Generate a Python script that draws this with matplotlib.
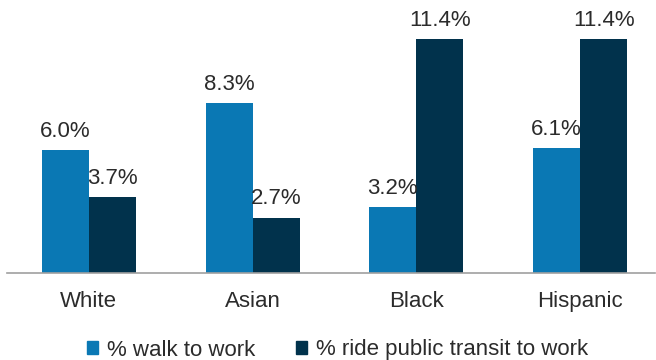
import matplotlib
matplotlib.use("Agg")
import matplotlib.pyplot as plt
import numpy as np
from matplotlib.patches import Patch

# data
categories = ["White", "Asian", "Black", "Hispanic"]
walk = [6.0, 8.3, 3.2, 6.1]
transit = [3.7, 2.7, 11.4, 11.4]
series_names = ["% walk to work", "% ride public transit to work"]

BLUE = "#0a78b4"
NAVY = "#01324c"
TEXT = "#2b2b2b"
FONTSIZE = 16

plt.rcParams["font.family"] = ["Liberation Sans", "DejaVu Sans"]

fig = plt.figure(figsize=(6.56, 3.60), dpi=100)
ax = fig.add_axes([7 / 656, 87 / 360, 648 / 656, 263 / 360])

x = np.arange(len(categories))
w = 0.287
b1 = ax.bar(x - w / 2, walk, w, color=BLUE)
b2 = ax.bar(x + w / 2, transit, w, color=NAVY)

for bars, vals in ((b1, walk), (b2, transit)):
    for r, v in zip(bars, vals):
        ax.annotate("%.1f%%" % v, (r.get_x() + r.get_width() / 2, v),
                    xytext=(0, 6), textcoords="offset points",
                    ha="center", va="bottom", fontsize=FONTSIZE, color=TEXT)

ax.set_xlim(-0.5, 3.457)
ax.set_ylim(0, 12.83)
ax.set_yticks([])
ax.set_xticks(x)
ax.set_xticklabels(categories, fontsize=FONTSIZE, color=TEXT)
ax.tick_params(axis="x", length=0, pad=13)
for s in ("top", "right", "left"):
    ax.spines[s].set_visible(False)
ax.spines["bottom"].set_color("#a0a0a0")
ax.spines["bottom"].set_linewidth(1.2)

handles = [Patch(color=BLUE), Patch(color=NAVY)]
fig.legend(handles, series_names, loc="center", bbox_to_anchor=(0.5145, 10 / 360),
           ncol=2, frameon=False, fontsize=FONTSIZE, handlelength=0.5,
           handleheight=0.5, handletextpad=0.4, columnspacing=1.8,
           labelcolor=TEXT, borderpad=0)

fig.savefig("out.png", dpi=100)
